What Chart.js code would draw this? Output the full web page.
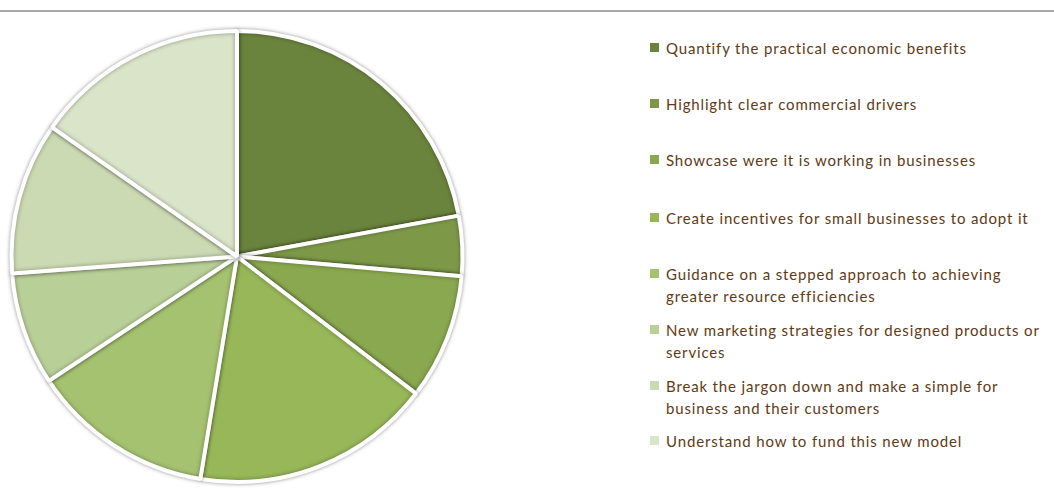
<!DOCTYPE html>
<html>
<head>
<meta charset="utf-8">
<script src="https://cdn.jsdelivr.net/npm/chart.js@4"></script>
<style>
  html, body { margin: 0; padding: 0; background: #fff; }
  body { width: 1054px; height: 495px; position: relative; overflow: hidden; font-family: "Lato", "Open Sans", sans-serif; }
  #topline { position: absolute; left: 0; top: 10px; width: 1054px; height: 2px; background: #A9A9A9; }
  #wrap { position: absolute; left: 0; top: 20px; width: 474px; height: 475px; }
  #legend { position: absolute; left: 650px; top: 0; width: 404px; }
  .item { position: absolute; left: 0; display: flex; align-items: flex-start; }
  .sw { width: 9px; height: 9px; margin-top: 6px; margin-right: 7px; flex: none; }
  .tx { color: #603B15; font-size: 15px; line-height: 22px; letter-spacing: 0.85px; white-space: nowrap; }
</style>
</head>
<body>
<div id="topline"></div>
<div id="wrap"><canvas id="c"></canvas></div>
<div id="legend"></div>
<script>
const labels = [
  ["Quantify the practical economic benefits"],
  ["Highlight clear commercial drivers"],
  ["Showcase were it is working in businesses"],
  ["Create incentives for small businesses to adopt it"],
  ["Guidance on a stepped approach to achieving", "greater resource efficiencies"],
  ["New marketing strategies for designed products or", "services"],
  ["Break the jargon down and make a simple for", "business and their customers"],
  ["Understand how to fund this new model"]
];
const values = [22.1, 4.3, 9.0, 17.2, 13.1, 8.1, 10.9, 15.3];
const colors = ["#6B843D", "#7D9948", "#8AA84F", "#97B758", "#A5C270", "#B9CF98", "#CCDAB3", "#DAE4C8"];
const legendTops = [37, 93, 149, 207, 263, 319, 375, 430];

const shadowPlugin = {
  id: 'shadow',
  beforeDatasetDraw(chart) {
    const ctx = chart.ctx;
    ctx.save();
    ctx.shadowColor = 'rgba(0,0,0,0.35)';
    ctx.shadowBlur = 4;
    ctx.shadowOffsetX = 0;
    ctx.shadowOffsetY = 0;
  },
  afterDatasetDraw(chart) {
    chart.ctx.restore();
  }
};

new Chart(document.getElementById('c'), {
  type: 'pie',
  data: {
    labels: labels.map(l => l.join(' ')),
    datasets: [{
      data: values,
      backgroundColor: colors,
      borderColor: '#ffffff',
      borderWidth: 4,
      hoverOffset: 0
    }]
  },
  options: {
    responsive: true,
    maintainAspectRatio: false,
    animation: false,
    layout: { padding: { top: 9, bottom: 11, left: 8, right: 8 } },
    plugins: { legend: { display: false }, tooltip: { enabled: false } }
  },
  plugins: [shadowPlugin]
});

const lg = document.getElementById('legend');
labels.forEach((lines, i) => {
  const d = document.createElement('div');
  d.className = 'item';
  d.style.top = legendTops[i] + 'px';
  const s = document.createElement('div');
  s.className = 'sw';
  s.style.background = colors[i];
  const x = document.createElement('div');
  x.className = 'tx';
  lines.forEach((ln, k) => {
    if (k) x.appendChild(document.createElement('br'));
    x.appendChild(document.createTextNode(ln));
  });
  d.appendChild(s); d.appendChild(x);
  lg.appendChild(d);
});
</script>
</body>
</html>
